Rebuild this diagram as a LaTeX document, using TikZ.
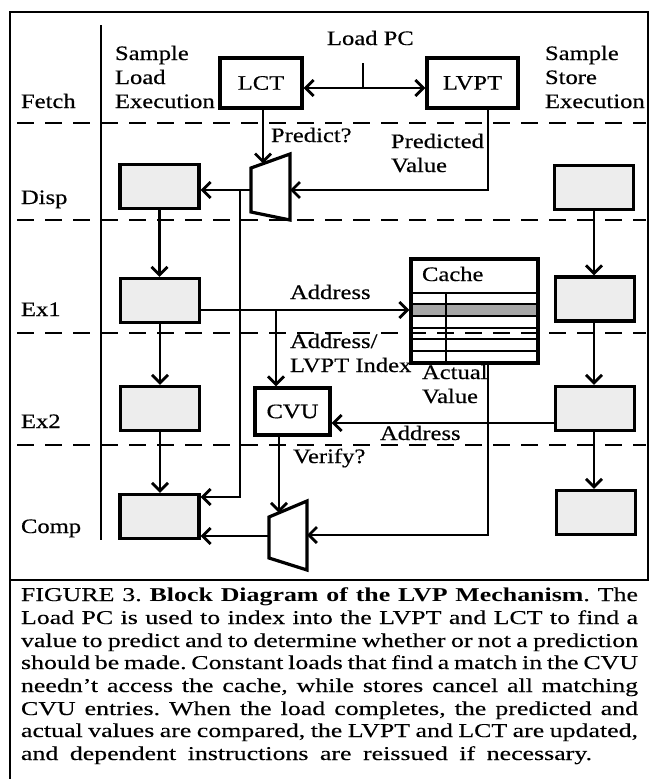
\documentclass[tikz,border=0pt]{standalone}
\usepackage{fontspec}
\setmainfont{Liberation Serif}[FakeStretch=1.2, UprightFeatures={FakeBold=0.4}]
\newfontfamily\capfam{Liberation Serif}[FakeStretch=1.32, UprightFeatures={FakeBold=0.3}]
\usetikzlibrary{arrows.meta}
\newcommand\dfont{\fontsize{20.5}{24}\selectfont}
\newcommand\cfont{\capfam\fontsize{19.6}{22.7}\selectfont\frenchspacing}
\begin{document}
\begin{tikzpicture}[x=1pt,y=-1pt,
  lbl/.style={font=\dfont, inner sep=0pt, outer sep=0pt, align=left},
  capline/.style={font=\cfont, inner sep=0pt, outer sep=0pt, anchor=base west},
  wbox/.style={draw, line width=3.2pt, fill=white, inner sep=0pt, font=\dfont},
  gbox/.style={draw, line width=3.2pt, fill=gray!14, inner sep=0pt, minimum width=79pt, minimum height=44pt},
  conn/.style={line width=2.8pt, line join=miter},
  tipb/.tip={Straight Barb[length=8pt,width=16pt]},
  arr/.style={conn, -tipb},
  dashl/.style={line width=2.2pt, dash pattern=on 17pt off 11pt},
  muxs/.style={draw, line width=3.2pt, fill=white, line join=miter}]
\useasboundingbox (0,0) rectangle (650,779);

% frame
\draw[line width=2.2pt] (10,580) -- (10,12) -- (648,12) -- (648,580) -- cycle;
\draw[line width=2.2pt] (10,580) -- (10,779);
\draw[conn] (101,25) -- (101,540);

% dashed stage boundaries
\draw[dashl] (17,123) -- (646,123);
\draw[dashl] (17,220) -- (646,220);
\draw[dashl] (17,333) -- (646,333);
\draw[dashl] (17,445) -- (646,445);

% stage labels
\node[lbl, anchor=base west] (fetch) at (21,108) {Fetch};
\node[lbl, anchor=base west] (disp) at (21,204) {Disp};
\node[lbl, anchor=base west] (ex1) at (21,316) {Ex1};
\node[lbl, anchor=base west] (ex2) at (21,428) {Ex2};
\node[lbl, anchor=base west] (comp) at (21,533) {Comp};

\node[lbl, anchor=base west] (sle) at (115,108) {Sample\\Load\\Execution};
\node[lbl, anchor=base west] (sse) at (545,108) {Sample\\Store\\Execution};
\node[lbl, anchor=base west] (loadpc) at (327,45) {Load PC};

% tables
\node[wbox, minimum width=82pt, minimum height=50pt] (lct) at (261,83) {LCT};
\node[wbox, minimum width=91pt, minimum height=50pt] (lvpt) at (472.5,83) {LVPT};
\node[wbox, minimum width=75pt, minimum height=47pt] (cvu) at (292.5,411.5) {CVU};

% load pipeline blocks
\node[gbox] (ld) at (159.5,186.5) {};
\node[gbox] (le1) at (160,300.5) {};
\node[gbox] (le2) at (160,408.5) {};
\node[gbox] (lc) at (159.5,516.5) {};
% store pipeline blocks
\node[gbox] (sd) at (594,187.5) {};
\node[gbox] (se1) at (595,299) {};
\node[gbox] (se2) at (595,408.5) {};
\node[gbox] (sc) at (596,512.5) {};

% cache
\node[draw, line width=3.2pt, inner sep=0pt, minimum width=127pt, minimum height=104pt] (cache) at (474.5,311) {};
\fill[gray!70] (411,304) rectangle (538,316);
\draw[line width=2pt] (411,293) -- (538,293);
\draw[line width=2.6pt] (411,304) -- (538,304);
\draw[line width=2.6pt] (411,316) -- (538,316);
\draw[line width=2pt] (411,328) -- (538,328);
\draw[line width=2pt] (411,339) -- (538,339);
\draw[line width=2pt] (411,351) -- (538,351);
\draw[line width=2pt] (446,293) -- (446,363);
\draw[line width=3.2pt] (411,259) rectangle (538,363);
\node[lbl, anchor=base west] (cachel) at (422,281) {Cache};

% Load PC
\coordinate (pctop) at (363,63);
\coordinate (pcj) at (363,88);
\draw[conn] (pctop) -- (pcj);
\draw[conn, tipb-tipb] (lct.east |- pcj) -- (lvpt.west |- pcj);

% mux 1 (dispatch)
\coordinate (m1a) at (251,168);
\coordinate (m1b) at (290,154);
\coordinate (m1c) at (290,220);
\coordinate (m1d) at (251,212);
\draw[muxs] (m1a) -- (m1b) -- (m1c) -- (m1d) -- cycle;
\coordinate (m1in) at (290,190);
\coordinate (m1out) at (251,190);
\coordinate (m1sel) at (263,163.5);
\draw[arr] (lct.south -| m1sel) -- (m1sel);
\node[lbl, anchor=base west] (predq) at (271,142) {Predict?};
\coordinate (pv) at (488,190);
\draw[arr] (lvpt.south -| pv) -- (pv) -- (m1in);
\node[lbl, anchor=base west] (pvl) at (391,172) {Predicted\\Value};
\draw[arr] (m1out) -- (ld.east |- m1out);
\coordinate (bp) at (240,190);
\coordinate (bpd) at (240,497);
\draw[arr] (bp) -- (bpd) -- (lc.east |- bpd);

% load pipeline flow
\draw[arr] (ld.south) -- (ld.south |- le1.north);
\draw[arr] (le1.south) -- (le1.south |- le2.north);
\draw[arr] (le2.south) -- (le2.south |- lc.north);
% store pipeline flow
\draw[arr] (sd.south) -- (sd.south |- se1.north);
\draw[arr] (se1.south -| sd.south) -- (sd.south |- se2.north);
\draw[arr] (se2.south -| sd.south) -- (sd.south |- sc.north);

% address to cache and CVU
\coordinate (adr) at (276,310);
\draw[arr] (le1.east |- adr) -- (cache.west |- adr);
\draw[arr] (adr) -- (cvu.north -| adr);
\node[lbl, anchor=base west] (adrl) at (290,299) {Address};
\node[lbl, anchor=base west] (adril) at (290,372) {Address/\\LVPT Index};

% store address to CVU
\coordinate (sa) at (450,423);
\draw[arr] (se2.west |- sa) -- (cvu.east |- sa);
\node[lbl, anchor=base west] (sadrl) at (380,440) {Address};

% mux 2 (complete)
\coordinate (m2a) at (269,517);
\coordinate (m2b) at (307,501);
\coordinate (m2c) at (307,570);
\coordinate (m2d) at (269,558);
\draw[muxs] (m2a) -- (m2b) -- (m2c) -- (m2d) -- cycle;
\coordinate (m2in) at (307,535);
\coordinate (m2out) at (269,536);
\coordinate (m2sel) at (279,512.8);
\draw[arr] (cvu.south -| m2sel) -- (m2sel);
\node[lbl, anchor=base west] (verq) at (293,463) {Verify?};
\coordinate (av) at (488,535);
\draw[arr] (cache.south -| av) -- (av) -- (m2in);
\node[lbl, anchor=base west] (avl) at (422,403) {Actual\\Value};
\draw[arr] (m2out) -- (lc.east |- m2out);

% caption
\node[capline] (cap1) at (21,601) {\makebox[617pt][s]{FIGURE 3. \textbf{Block Diagram of the LVP Mechanism}. The}};
\node[capline] (cap2) at (21,624) {\makebox[617pt][s]{Load PC is used to index into the LVPT and LCT to find a}};
\node[capline] (cap3) at (21,647) {\makebox[617pt][s]{value to predict and to determine whether or not a prediction}};
\node[capline] (cap4) at (21,669) {\makebox[617pt][s]{should be made. Constant loads that find a match in the CVU}};
\node[capline] (cap5) at (21,692) {\makebox[617pt][s]{needn’t access the cache, while stores cancel all matching}};
\node[capline] (cap6) at (21,715) {\makebox[617pt][s]{CVU entries. When the load completes, the predicted and}};
\node[capline] (cap7) at (21,737) {\makebox[617pt][s]{actual values are compared, the LVPT and LCT are updated,}};
\node[capline] (cap8) at (21,760) {\makebox[571pt][s]{and dependent instructions are reissued if necessary.}};
\end{tikzpicture}
\end{document}
